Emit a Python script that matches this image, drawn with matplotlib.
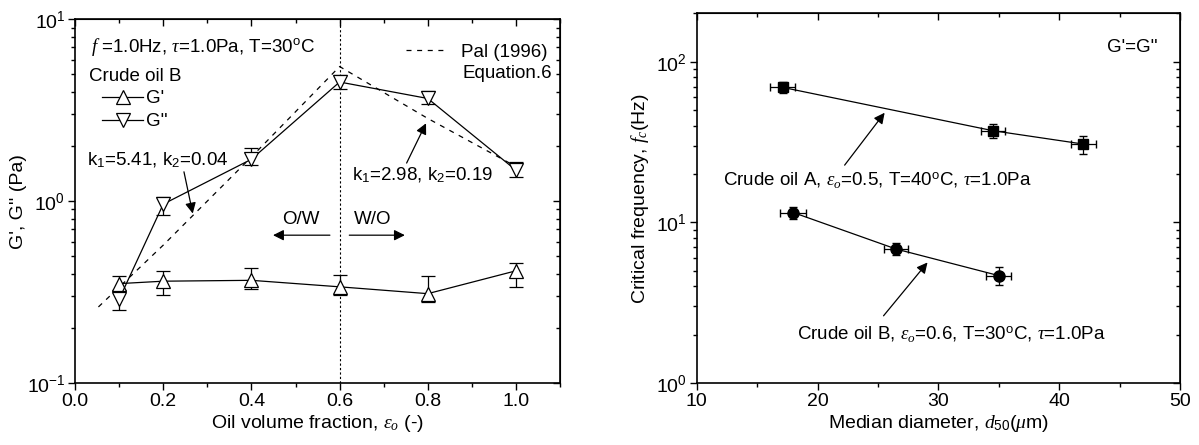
import matplotlib
matplotlib.use("Agg")
import matplotlib.pyplot as plt
import numpy as np
from matplotlib.lines import Line2D
from matplotlib.ticker import MultipleLocator, LogLocator, LogFormatterMathtext, NullFormatter

plt.rcParams['font.family'] = ['Liberation Sans', 'DejaVu Sans']
plt.rcParams['mathtext.fontset'] = 'custom'
plt.rcParams['mathtext.rm'] = 'Liberation Sans'
plt.rcParams['mathtext.it'] = 'Liberation Serif:italic'
plt.rcParams['mathtext.bf'] = 'Liberation Sans:bold'

# ---- left panel: G', G'' vs oil volume fraction (crude oil B) ----
phi = [0.1, 0.2, 0.4, 0.6, 0.8, 1.0]
g1 = [0.352, 0.363, 0.367, 0.338, 0.310, 0.414]
g1_lo = [0.03, 0.06, 0.04, 0.035, 0.031, 0.076]
g1_hi = [0.034, 0.051, 0.063, 0.055, 0.076, 0.044]
g2 = [0.289, 0.963, 1.70, 4.52, 3.67, 1.48]
g2_lo = [0.038, 0.125, 0.12, 0.40, 0.25, 0.13]
g2_hi = [0.035, 0.093, 0.27, 0.42, 0.36, 0.16]
pal_x = [0.053, 0.2, 0.4, 0.6, 0.8, 1.0]
pal_y = [0.262, 0.573, 1.75, 5.5, 2.85, 1.55]

# ---- right panel: critical frequency vs median diameter ----
dA = [17.1, 34.5, 42.0]
fA = [69.2, 37.2, 30.7]
fA_err = [5.5, 3.8, 4.0]
dA_err = [1.0, 1.0, 1.05]
dB = [18.0, 26.5, 35.0]
fB = [11.5, 6.82, 4.66]
fB_err = [1.0, 0.6, 0.6]
dB_err = [1.07, 1.0, 1.03]

fig = plt.figure(figsize=(11.99, 4.45), dpi=100)
ax1 = fig.add_axes([0.0626, 0.1393, 0.4045, 0.8173])
ax2 = fig.add_axes([0.5811, 0.1393, 0.4031, 0.8308])

TS = 14     # tick/axis label size
AS = 13.5   # annotation size
DASH = (0, (4, 4.5))

# left
ax1.set_yscale('log')
ax1.plot(pal_x, pal_y, color='k', ls=DASH, lw=0.9)
ax1.axvline(0.6, color='k', ls=(0, (2, 2)), lw=0.8)
ax1.errorbar(phi, g1, yerr=[g1_lo, g1_hi], color='k', lw=0.9, capsize=5,
             elinewidth=0.9, marker='^', ms=10, mfc='white', mec='k', mew=0.9)
ax1.errorbar(phi, g2, yerr=[g2_lo, g2_hi], color='k', lw=0.9, capsize=5,
             elinewidth=0.9, marker='v', ms=10, mfc='white', mec='k', mew=0.9)
ax1.set_xlim(0, 1.1)
ax1.set_ylim(0.1, 10)
ax1.xaxis.set_major_locator(MultipleLocator(0.2))
ax1.xaxis.set_minor_locator(MultipleLocator(0.1))
ax1.xaxis.set_major_formatter(matplotlib.ticker.FormatStrFormatter('%.1f'))
ax1.set_xlabel(r'Oil volume fraction, $\varepsilon_o$ (-)', fontsize=TS, labelpad=2)
ax1.set_ylabel("G', G'' (Pa)", fontsize=TS)
ax1.yaxis.set_label_coords(-0.099, 0.5)

ax1.text(0.033, 0.925, r'$f$ =1.0Hz, $\tau$=1.0Pa, T=30$^{\rm o}$C',
         transform=ax1.transAxes, fontsize=AS, va='center')
ax1.text(0.028, 0.844, 'Crude oil B', transform=ax1.transAxes, fontsize=AS,
         va='center')
h1 = Line2D([], [], color='k', lw=0.9, marker='^', ms=10, mfc='white', mew=0.9)
h2 = Line2D([], [], color='k', lw=0.9, marker='v', ms=10, mfc='white', mew=0.9)
leg = ax1.legend([h1, h2], ["G'", "G''"], loc='center left',
                 bbox_to_anchor=(0.056, 0.75), frameon=False, fontsize=AS,
                 handlelength=2.2, handletextpad=0.15, labelspacing=0.3,
                 borderpad=0, borderaxespad=0)
ax1.add_artist(leg)
hp = Line2D([], [], color='k', ls=DASH, lw=0.9)
ax1.legend([hp], ['Pal (1996)'], loc='center right', bbox_to_anchor=(0.975, 0.91),
           frameon=False, fontsize=AS, handlelength=2.1, handletextpad=0.85,
           borderpad=0, borderaxespad=0)
ax1.text(0.984, 0.852, 'Equation.6', transform=ax1.transAxes, fontsize=AS,
         ha='right', va='center')

arrow = dict(arrowstyle='-|>', color='k', lw=0.9, mutation_scale=16, shrinkA=0, shrinkB=0)
ax1.text(0.028, 1.68, r'k$_1$=5.41, k$_2$=0.04', fontsize=AS, va='center')
ax1.annotate('', xy=(0.267, 0.855), xytext=(0.247, 1.45), arrowprops=arrow)
ax1.text(0.627, 1.39, r'k$_1$=2.98, k$_2$=0.19', fontsize=AS, va='center')
ax1.annotate('', xy=(0.796, 2.68), xytext=(0.752, 1.62), arrowprops=arrow)
ax1.text(0.513, 0.79, 'O/W', fontsize=AS, ha='center', va='center')
ax1.text(0.675, 0.79, 'W/O', fontsize=AS, ha='center', va='center')
ax1.annotate('', xy=(0.449, 0.65), xytext=(0.578, 0.65), arrowprops=arrow)
ax1.annotate('', xy=(0.748, 0.65), xytext=(0.622, 0.65), arrowprops=arrow)

# right
ax2.set_yscale('log')
ax2.errorbar(dA, fA, yerr=fA_err, xerr=dA_err, color='k', lw=0.9, capsize=3,
             elinewidth=0.9, marker='s', ms=7.5, mfc='k', mec='k')
ax2.errorbar(dB, fB, yerr=fB_err, xerr=dB_err, color='k', lw=0.9, capsize=3,
             elinewidth=0.9, marker='o', ms=8, mfc='k', mec='k')
ax2.set_xlim(10, 50)
ax2.set_ylim(1, 200)
ax2.xaxis.set_major_locator(MultipleLocator(10))
ax2.xaxis.set_minor_locator(MultipleLocator(5))
ax2.set_xlabel(r'Median diameter, $d_{50}$($\mu$m)', fontsize=TS, labelpad=2)
ax2.set_ylabel(r'Critical frequency, $f_c$(Hz)', fontsize=TS, labelpad=4)
ax2.text(0.953, 0.908, "G'=G''", transform=ax2.transAxes, fontsize=AS,
         ha='right', va='center')
ax2.text(12.2, 18.2, r'Crude oil A, $\varepsilon_o$=0.5, T=40$^{\rm o}$C, $\tau$=1.0Pa',
         fontsize=AS, va='center')
ax2.annotate('', xy=(25.55, 48.1), xytext=(22.24, 22.7), arrowprops=arrow)
ax2.text(18.3, 2.01, r'Crude oil B, $\varepsilon_o$=0.6, T=30$^{\rm o}$C, $\tau$=1.0Pa',
         fontsize=AS, va='center')
ax2.annotate('', xy=(29.1, 5.63), xytext=(25.46, 2.62), arrowprops=arrow)

for ax in (ax1, ax2):
    ax.yaxis.set_major_locator(LogLocator(base=10, numticks=10))
    ax.yaxis.set_minor_locator(LogLocator(base=10, subs=np.arange(2, 10), numticks=10))
    ax.yaxis.set_major_formatter(LogFormatterMathtext())
    ax.yaxis.set_minor_formatter(NullFormatter())
    ax.tick_params(which='both', direction='out', top=False, right=False,
                   labelsize=TS, width=1.0, pad=2)
    ax.tick_params(which='major', length=5)
    ax.tick_params(which='minor', length=3)
    for s in ax.spines.values():
        s.set_linewidth(1.2)
    # mirrored ticks pointing inward on top / right
    sx = ax.secondary_xaxis('top')
    sx.set_xticks(ax.get_xticks())
    sx.xaxis.set_minor_locator(ax.xaxis.get_minor_locator())
    sx.tick_params(which='both', direction='in', labeltop=False, width=1.0)
    sx.tick_params(which='major', length=5)
    sx.tick_params(which='minor', length=3)
    sy = ax.secondary_yaxis('right')
    sy.yaxis.set_major_locator(LogLocator(base=10, numticks=10))
    sy.yaxis.set_minor_locator(LogLocator(base=10, subs=np.arange(2, 10), numticks=10))
    sy.tick_params(which='both', direction='in', labelright=False, width=1.0)
    sy.tick_params(which='major', length=5)
    sy.tick_params(which='minor', length=3)

fig.savefig('out.png', dpi=100)
